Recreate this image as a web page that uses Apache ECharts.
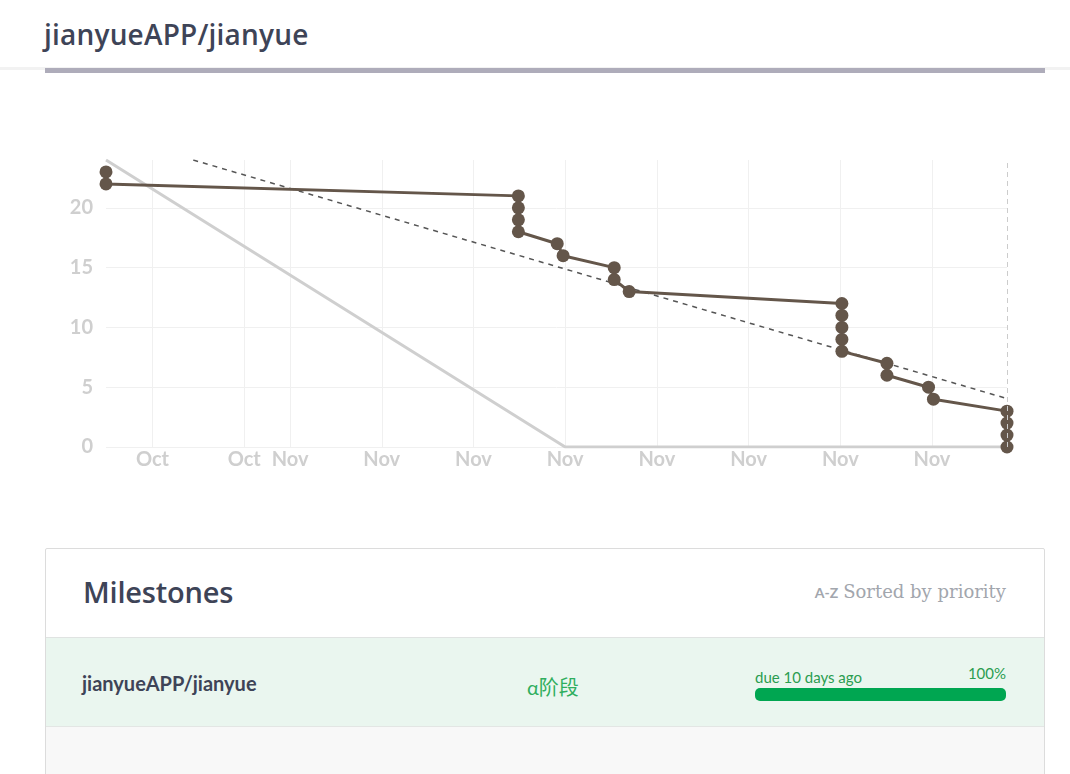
<!DOCTYPE html>
<html>
<head>
<meta charset="utf-8">
<script src="https://cdn.jsdelivr.net/npm/echarts@6/dist/echarts.min.js"></script>
<style>
  html, body { margin: 0; padding: 0; width: 1070px; height: 774px; overflow: hidden; background: #fff; font-family: Lato, "Open Sans", sans-serif; }
  #topline { position: absolute; left: 0; top: 67px; width: 1070px; height: 3px; background: #f2f2f2; }
  #title { position: absolute; left: 44px; top: 15px; font-family: "Open Sans", sans-serif; font-size: 28px; font-weight: 600; color: #3e4457; letter-spacing: 0.2px; }
  #bar { position: absolute; left: 45px; top: 68px; width: 1000px; height: 5px; background: #aeacba; }
  #chart { position: absolute; left: 0; top: 0; width: 1070px; height: 540px; }
  #box { position: absolute; left: 45px; top: 548px; width: 998px; height: 240px; border: 1px solid #dcdcdc; border-radius: 2px; background: #fff; }
  #mhead { position: absolute; left: 37px; top: 23px; font-family: "Open Sans", sans-serif; font-size: 29px; font-weight: 600; color: #3e4457; letter-spacing: -0.2px; }
  #sort { position: absolute; right: 38px; top: 32px; font-family: "DejaVu Serif", serif; font-size: 18px; color: #a2a6ad; }
  #sort small { font-family: Lato, sans-serif; font-size: 14px; font-weight: 700; margin-right: 5px; color: #a2a6ad; }
  #row { position: absolute; left: 0; top: 88px; width: 998px; height: 88px; background: #eaf6ef; border-top: 1px solid #e0e3e2; border-bottom: 1px solid #e3e6e4; }
  #rname { position: absolute; left: 36px; top: 33px; font-size: 20px; font-weight: 700; color: #3e4457; }
  #rlabel { position: absolute; left: 481px; top: 34px; font-size: 20px; color: #2fae5e; font-family: Lato, "Noto Sans CJK SC", sans-serif; }
  #due { position: absolute; left: 709px; top: 30px; font-size: 15px; color: #2a9d50; }
  #pct { position: absolute; right: 38px; top: 26px; font-size: 15px; color: #2a9d50; }
  #prog { position: absolute; left: 709px; top: 50px; width: 251px; height: 13px; border-radius: 5px; background: #00a651; }
  #rest { position: absolute; left: 0; top: 178px; width: 998px; height: 70px; background: #f8f8f8; }
</style>
</head>
<body>
<div id="topline"></div>
<div id="title">jianyueAPP/jianyue</div>
<div id="bar"></div>
<div id="chart"></div>
<div id="box">
  <div id="mhead">Milestones</div>
  <div id="sort"><small>A-Z</small>Sorted by priority</div>
  <div id="row">
    <div id="rname">jianyueAPP/jianyue</div>
    <div id="rlabel">α阶段</div>
    <div id="due">due 10 days ago</div>
    <div id="pct">100%</div>
    <div id="prog"></div>
  </div>
  <div id="rest"></div>
</div>
<script>
// Actual burndown: closing times and remaining issues
const actualTimes = [
  "2015-10-27T23:40:00Z", "2015-10-27T23:40:00Z",
  "2015-11-05T23:30:00Z", "2015-11-05T23:30:00Z", "2015-11-05T23:30:00Z", "2015-11-05T23:30:00Z",
  "2015-11-06T19:50:00Z", "2015-11-06T22:55:00Z",
  "2015-11-08T01:40:00Z", "2015-11-08T01:40:00Z", "2015-11-08T09:30:00Z",
  "2015-11-13T00:50:00Z", "2015-11-13T00:50:00Z", "2015-11-13T00:50:00Z", "2015-11-13T00:50:00Z", "2015-11-13T00:50:00Z",
  "2015-11-14T00:25:00Z", "2015-11-14T00:25:00Z",
  "2015-11-14T22:10:00Z", "2015-11-15T00:45:00Z",
  "2015-11-16T15:15:00Z", "2015-11-16T15:15:00Z", "2015-11-16T15:15:00Z", "2015-11-16T15:15:00Z"
];
const actualRemaining = [23, 22, 21, 20, 19, 18, 17, 16, 15, 14, 13, 12, 11, 10, 9, 8, 7, 6, 5, 4, 3, 2, 1, 0];

// Ideal line
const idealTimes = ["2015-10-27T23:40:00Z", "2015-11-07T00:00:00Z", "2015-11-16T15:15:00Z"];
const idealValues = [24, 0, 0];

// Trend line (dashed)
const trendTimes = ["2015-10-29T21:20:00Z", "2015-11-16T15:15:00Z"];
const trendValues = [24, 4.05];

// Axis ticks
const xTickDates = ["2015-10-29", "2015-10-31", "2015-11-01", "2015-11-03", "2015-11-05",
                    "2015-11-07", "2015-11-09", "2015-11-11", "2015-11-13", "2015-11-15"];
const monthNames = ["Jan","Feb","Mar","Apr","May","Jun","Jul","Aug","Sep","Oct","Nov","Dec"];
const yTicks = [0, 5, 10, 15, 20];
const xStart = "2015-10-27T23:40:00Z";
const xEnd = "2015-11-16T15:15:00Z";

const t = s => Date.parse(s);
const pairs = (ts, vs) => ts.map((s, i) => [t(s), vs[i]]);
const xTickVals = xTickDates.map(d => t(d + "T00:00:00Z"));

const chart = echarts.init(document.getElementById('chart'), null, { renderer: 'canvas' });
const labelFont = { color: '#cfcfcf', fontSize: 20, fontWeight: 'bold', fontFamily: 'Lato, sans-serif' };
chart.setOption({
  animation: false,
  grid: { left: 106, right: 63, top: 160, bottom: 93, containLabel: false },
  xAxis: {
    type: 'value',
    min: t(xStart), max: t(xEnd),
    axisLine: { show: false },
    axisTick: { show: false, customValues: xTickVals },
    axisLabel: Object.assign({
      customValues: xTickVals,
      margin: 3,
      formatter: v => monthNames[new Date(v).getUTCMonth()]
    }, labelFont),
    splitLine: { show: true, lineStyle: { color: '#f0f0f0', width: 1 } }
  },
  yAxis: {
    type: 'value', min: 0, max: 24,
    axisLine: { show: false },
    axisTick: { show: false, customValues: yTicks },
    axisLabel: Object.assign({ customValues: yTicks, margin: 13 }, labelFont),
    splitLine: { show: true, lineStyle: { color: '#f0f0f0', width: 1 } }
  },
  series: [
    {
      type: 'line', data: pairs(idealTimes, idealValues), symbol: 'none',
      lineStyle: { color: '#cfcfcf', width: 3 }, z: 2,
      markLine: {
        silent: true, symbol: 'none', label: { show: false },
        lineStyle: { color: '#cccccc', type: [5, 4], width: 1 },
        data: [{ xAxis: t(xEnd) }]
      }
    },
    {
      type: 'line', data: pairs(trendTimes, trendValues), symbol: 'none',
      lineStyle: { color: '#555555', width: 1.5, type: [5, 5] }, z: 3
    },
    {
      type: 'line', data: pairs(actualTimes, actualRemaining),
      symbol: 'circle', symbolSize: 13, showAllSymbol: true,
      itemStyle: { color: '#64564a' },
      lineStyle: { color: '#64564a', width: 3 }, z: 4
    }
  ]
});
</script>
</body>
</html>
